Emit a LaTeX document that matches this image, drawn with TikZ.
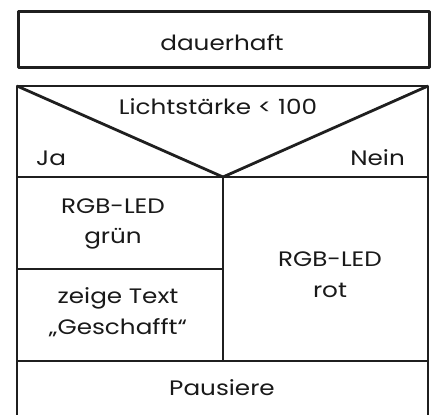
\documentclass[tikz,border=0pt]{standalone}
\usepackage{fontspec}
\setmainfont{Poppins}[FakeStretch=1.18]
\begin{document}
\begin{tikzpicture}[x=1bp,y=1bp,
  frame/.style={draw=black!88, line width=2.8bp, line join=round},
  lbl/.style={font=\fontsize{21}{31}\selectfont, text=black!90, align=center, inner sep=0pt}]
\clip (0,0) rectangle (432,415);
\useasboundingbox (0,0) rectangle (432,415);
% top box
\node[frame, minimum width=411bp, minimum height=56bp, anchor=south west, inner sep=0pt] (loop) at (17,346) {};
\node[lbl] (dauer) at (222,372) {dauerhaft};
% lower block
\coordinate (tl) at (17,329);
\coordinate (tr) at (428,329);
\coordinate (bl) at (17,-10);
\coordinate (br) at (428,-10);
\coordinate (tip) at (223,238);
\coordinate (ml) at (17,238);
\coordinate (mr) at (428,238);
\coordinate (vb) at (223,54);
\coordinate (gl) at (17,146);
\coordinate (gr) at (223,146);
\coordinate (pl) at (17,54);
\coordinate (pr) at (428,54);
\draw[frame] (bl) -- (tl) -- (tr) -- (br);
\draw[frame] (tl) -- (tip) -- (tr);
\draw[frame] (ml) -- (mr);
\draw[frame] (tip) -- (vb);
\draw[frame] (gl) -- (gr);
\draw[frame] (pl) -- (pr);
\node[lbl] (cond) at (218,308) {Lichtstärke < 100};
\node[lbl, anchor=west] (ja) at (36,257) {Ja};
\node[lbl, anchor=east] (nein) at (405,257) {Nein};
\node[lbl] (gruen) at (113,191) {RGB-LED\\grün};
\node[lbl] (rot) at (330,140) {RGB-LED\\rot};
\node[lbl] (text) at (118,103) {zeige Text\\„Geschafft“};
\node[lbl] (pause) at (222,27) {Pausiere};
\end{tikzpicture}
\end{document}
